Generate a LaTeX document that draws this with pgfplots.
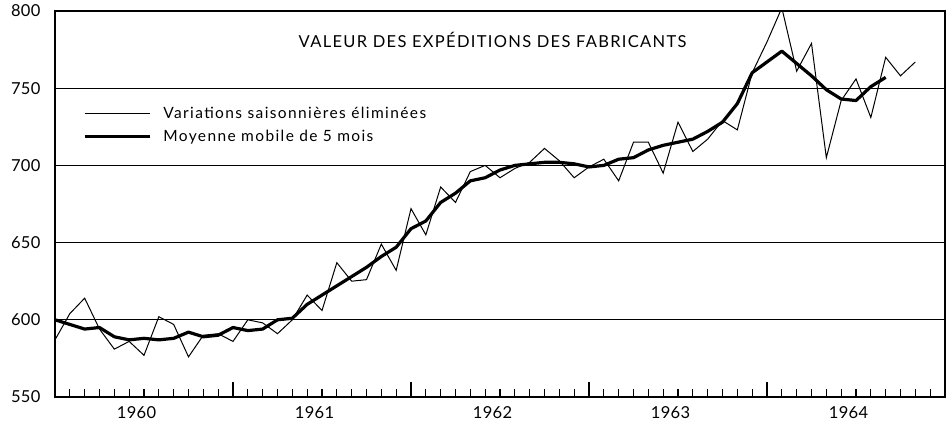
\documentclass[border=0pt]{standalone}
\usepackage{pgfplots}
\usepackage{pgfplotstable}
\pgfplotsset{compat=1.18}
\usepackage{fontspec}
\setmainfont{Lato}

\pgfplotstableread{
m v
0 587
1 604
2 614
3 594
4 581
5 586
6 577
7 602
8 597
9 576
10 590
11 591
12 586
13 600
14 598
15 591
16 600
17 616
18 606
19 637
20 625
21 626
22 649
23 632
24 672
25 655
26 686
27 676
28 696
29 700
30 692
31 698
32 702
33 711
34 703
35 692
36 699
37 704
38 690
39 715
40 715
41 695
42 728
43 709
44 717
45 729
46 723
47 760
48 780
49 802
50 761
51 779
52 705
53 742
54 756
55 731
56 770
57 758
58 767
}\thinseries

\pgfplotstableread{
m v
0 600
1 597
2 594
3 595
4 589
5 587
6 588
7 587
8 588
9 592
10 589
11 590
12 595
13 593
14 594
15 600
16 601
17 610
18 616
19 622
20 628
21 634
22 641
23 647
24 659
25 664
26 676
27 682
28 690
29 692
30 697
31 700
32 701
33 702
34 702
35 701
36 699
37 700
38 704
39 705
40 710
41 713
42 715
43 717
44 722
45 728
46 740
47 760
48 767
49 774
50 766
51 758
52 749
53 743
54 742
55 751
56 757
}\thickseries

\begin{document}
\begin{tikzpicture}
\begin{axis}[
  scale only axis,
  width=890pt, height=386pt,
  xmin=0, xmax=60, ymin=550, ymax=800,
  axis line style={line width=1.4pt},
  ytick={550,600,650,700,750,800},
  ymajorgrids,
  grid style={line width=0.9pt, black},
  /pgf/number format/assume math mode=true,
  tick label style={font=\fontsize{16.5}{18}\selectfont\addfontfeatures{LetterSpace=2}},
  yticklabel style={/pgf/number format/1000 sep={}, xshift=-11pt},
  xticklabel style={yshift=-6pt},
  xtick={5.5,17.5,29.5,41.5,53.5},
  xticklabels={1960,1961,1962,1963,1964},
  xtick pos=bottom, ytick pos=left,
  tick align=inside,
  major tick length=0pt,
  minor xtick={1,...,59},
  minor tick length=8pt,
  tick style={line width=1.1pt, black},
  extra x ticks={12,24,36,48},
  extra x tick labels={},
  extra x tick style={major tick length=15pt},
  legend style={at={(0.028,0.762)}, anchor=north west, draw=none, fill=none,
    font=\fontsize{15.5}{18}\selectfont\addfontfeatures{LetterSpace=9}, row sep=6pt, legend cell align=left,
    /tikz/every odd column/.append style={column sep=10pt}},
  legend image code/.code={\draw[#1] (0pt,0pt) -- (65pt,0pt);},
]
\addplot[black, line width=1.0pt, line join=miter] table[x=m, y=v] {\thinseries};
\addlegendentry{Variations saisonnières éliminées}
\addplot[black, line width=3.2pt, line join=round] table[x=m, y=v] {\thickseries};
\addlegendentry{Moyenne mobile de 5 mois}
\node[font=\fontsize{16.5}{19}\selectfont\addfontfeatures{LetterSpace=8}] at (axis cs:29.5,781) {VALEUR DES EXPÉDITIONS DES FABRICANTS};
\end{axis}
\pgfresetboundingbox
\path[use as bounding box] ([xshift=-55pt,yshift=-35pt]current axis.south west) rectangle ([xshift=3pt,yshift=11pt]current axis.north east);
\end{tikzpicture}
\end{document}
